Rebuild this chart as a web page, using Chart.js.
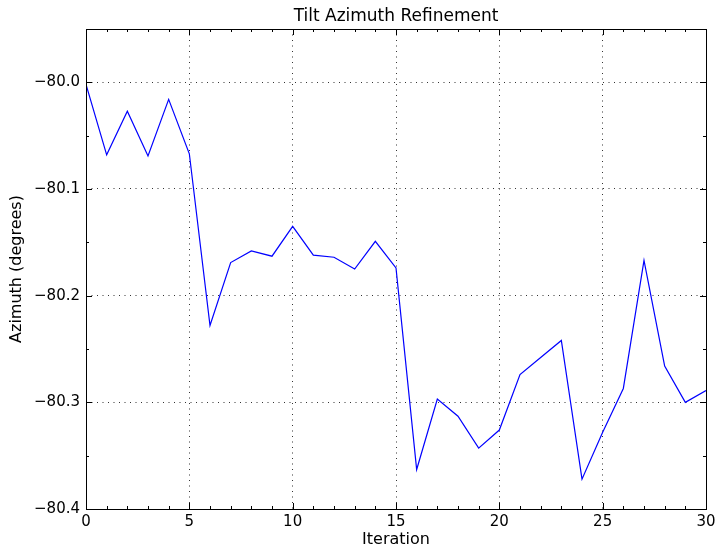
<!DOCTYPE html>
<html>
<head>
<meta charset="utf-8">
<script src="https://cdn.jsdelivr.net/npm/chart.js@4"></script>
<style>
  body { margin: 0; background: #fff; }
  canvas { display: block; }
</style>
</head>
<body>
<canvas id="tiltChart" width="725" height="555"></canvas>
<script>
const iterations = [0, 1, 2, 3, 4, 5, 6, 7, 8, 9, 10, 11, 12, 13, 14, 15,
  16, 17, 18, 19, 20, 21, 22, 23, 24, 25, 26, 27, 28, 29, 30];
const azimuth = [
  -80.002, -80.068, -80.027, -80.069, -80.016, -80.067, -80.228, -80.169,
  -80.158, -80.163, -80.135, -80.162, -80.164, -80.175, -80.149, -80.174,
  -80.363, -80.297, -80.313, -80.343, -80.326, -80.274, -80.258, -80.242,
  -80.372, -80.328, -80.287, -80.167, -80.266, -80.300, -80.289
];
const xTicks = [0, 5, 10, 15, 20, 25, 30];
const yTicks = [-80.4, -80.3, -80.2, -80.1, -80.0];
const xMinor = iterations;
const yMinor = [-80.4, -80.35, -80.3, -80.25, -80.2, -80.15, -80.1, -80.05, -80.0, -79.95];

const tickFont = { family: "DejaVu Sans", size: 15 };
const labelFont = { family: "DejaVu Sans", size: 16 };

// matplotlib-style frame with inward ticks on all four sides
const frameTicks = {
  id: "frameTicks",
  afterDatasetsDraw(chart) {
    const { ctx, chartArea: a, scales } = chart;
    ctx.save();
    ctx.strokeStyle = "#000";
    ctx.lineWidth = 1;
    ctx.beginPath();
    xMinor.forEach(v => {
      const x = Math.round(scales.x.getPixelForValue(v)) + 0.5;
      const len = xTicks.includes(v) ? 6 : 3;
      ctx.moveTo(x, a.bottom); ctx.lineTo(x, a.bottom - len);
      ctx.moveTo(x, a.top); ctx.lineTo(x, a.top + len);
    });
    yMinor.forEach(v => {
      const y = Math.round(scales.y.getPixelForValue(v)) + 0.5;
      const len = yTicks.some(t => Math.abs(t - v) < 1e-6) ? 6 : 3;
      ctx.moveTo(a.left, y); ctx.lineTo(a.left + len, y);
      ctx.moveTo(a.right, y); ctx.lineTo(a.right - len, y);
    });
    ctx.stroke();
    ctx.strokeRect(Math.round(a.left) + 0.5, Math.round(a.top) + 0.5,
      Math.round(a.right - a.left), Math.round(a.bottom - a.top));
    ctx.restore();
  }
};

new Chart(document.getElementById("tiltChart"), {
  type: "line",
  data: {
    datasets: [{
      data: iterations.map((x, i) => ({ x: x, y: azimuth[i] })),
      borderColor: "#0000ff",
      borderWidth: 1.2,
      pointRadius: 0,
      tension: 0,
      fill: false
    }]
  },
  options: {
    responsive: false,
    animation: false,
    layout: { padding: { left: 0, right: 19, top: 0, bottom: 0 } },
    plugins: {
      legend: { display: false },
      tooltip: { enabled: false },
      title: {
        display: true,
        fullSize: false,
        text: "Tilt Azimuth Refinement",
        color: "#000",
        font: { family: "DejaVu Sans", size: 17, weight: "normal" },
        padding: { top: 6, bottom: 2.6 }
      }
    },
    scales: {
      x: {
        type: "linear",
        min: 0,
        max: 30,
        afterBuildTicks: s => { s.ticks = xTicks.map(v => ({ value: v })); },
        afterFit: s => { s.height = 46; },
        ticks: { color: "#000", font: tickFont, padding: 4, maxRotation: 0 },
        grid: { color: "#333", lineWidth: 1, drawTicks: false },
        border: { display: false, dash: [1, 4.5] },
        title: {
          display: true, text: "Iteration", color: "#000", font: labelFont,
          padding: { top: 0, bottom: 5.4 }
        }
      },
      y: {
        type: "linear",
        min: -80.4,
        max: -79.95,
        afterBuildTicks: s => { s.ticks = yTicks.map(v => ({ value: v })); },
        afterFit: s => { s.width = 86; },
        ticks: {
          color: "#000", font: tickFont, padding: 6,
          callback: v => (v < 0 ? "\u2212" : "") + Math.abs(v).toFixed(1)
        },
        grid: { color: "#333", lineWidth: 1, drawTicks: false },
        border: { display: false, dash: [1, 4.5] },
        title: {
          display: true, text: "Azimuth (degrees)", color: "#000", font: labelFont,
          padding: { top: 7.4, bottom: 0 }
        }
      }
    }
  },
  plugins: [frameTicks]
});
</script>
</body>
</html>
